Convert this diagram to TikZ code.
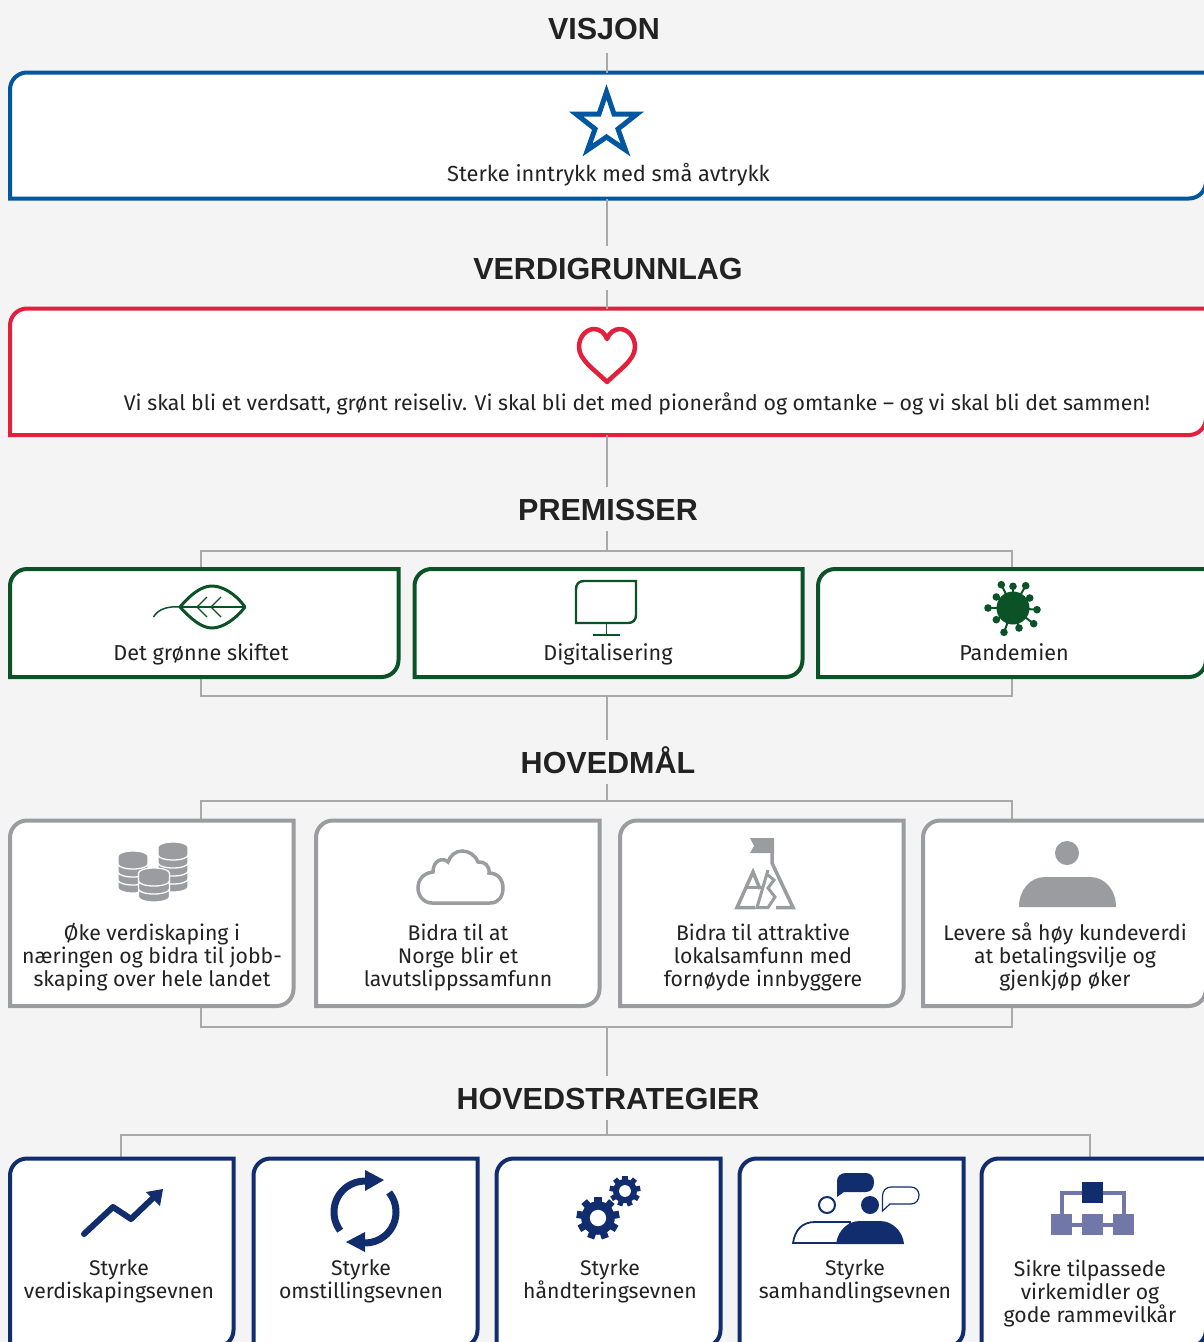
\documentclass[tikz,border=0pt]{standalone}
\usepackage{fontspec}
\setmainfont{Fira Sans}
\newfontfamily\headfont{Liberation Sans}
\usetikzlibrary{fit}
\definecolor{pagegray}{HTML}{F4F4F4}
\definecolor{linkgray}{HTML}{A9A9A9}
\definecolor{inkblack}{HTML}{222222}
\definecolor{visionblue}{HTML}{0057A0}
\definecolor{valuered}{HTML}{E2203C}
\definecolor{premisegreen}{HTML}{0B5226}
\definecolor{goalgray}{HTML}{9B9CA0}
\definecolor{stratnavy}{HTML}{112D6E}
\definecolor{stratlilac}{HTML}{7277A9}
\tikzset{
	headline/.style={font=\headfont\fontsize{30.5}{31}\selectfont\bfseries, text=inkblack, text height=22pt, text depth=0pt, inner ysep=11pt},
	cardtext/.style={font=\fontsize{21.2}{23}\selectfont, text=inkblack, align=center, inner sep=0pt},
	oneline/.style={font=\fontsize{21.6}{23}\selectfont, text height=16pt, text depth=6pt},
	link/.style={draw=linkgray, line width=1.5pt},
	cardline/.style={fill=white, line width=4pt}
}
\def\cardbox[#1](#2)(#3,#4)(#5,#6){\draw[cardline, draw=#1] (#3,#6) [rounded corners=17pt] -- (#3,#4) [sharp corners] -- (#5,#4) [rounded corners=17pt] -- (#5,#6) [sharp corners] -- cycle; \node[fit={(#3,#4) (#5,#6)}, inner sep=0pt, outer sep=0pt] (#2) {};}
\def\coinstack(#1,#2)(#3)(#4){\foreach \i in {#4} {\draw[draw=white, line width=1.3pt, fill=goalgray] ({#1-#3},{#2+5+\i*8}) -- ({#1-#3},{#2+13+\i*8}) arc[start angle=180, end angle=0, x radius=#3, y radius=5] -- ({#1+#3},{#2+5+\i*8}) arc[start angle=0, end angle=-180, x radius=#3, y radius=5] -- cycle;}}
\def\gearicon(#1,#2)(#3){\foreach \a in {0,40,...,320} {\draw[stratnavy, line width=#3*0.34pt] (#1,#2) -- ++(\a-90:#3);} \fill[stratnavy] (#1,#2) circle ({#3*0.78}); \fill[white] (#1,#2) circle ({#3*0.38});}

\begin{document}
\begin{tikzpicture}[x=1pt, y=-1pt]
	%%%%% START %%%%%
	
	\path[use as bounding box, clip] (0, 0) rectangle (1204, 1342);
	\fill[pagegray] (0, 0) rectangle (1204, 1342);
	
	\coordinate (spine) at (607, 0);
	\coordinate (premleft) at (201, 551);
	\coordinate (premright) at (1012, 696);
	\coordinate (goalleft) at (201, 801);
	\coordinate (goalright) at (1012, 1027);
	\coordinate (stratleft) at (121, 1158);
	\coordinate (stratmid) at (607, 1135);
	\coordinate (stratright) at (1090, 1158);
	
	\draw[link] (premleft) rectangle (premright);
	\draw[link] (goalleft) rectangle (goalright);
	\draw[link] (stratleft) |- (stratmid) -| (stratright);
	
	% headings
	\node[headline, inner ysep=14pt] (visjon) at (604, 28) {VISJON};
	\node[headline] (verdi) at (608, 268) {VERDIGRUNNLAG};
	\node[headline] (premisser) at (608, 509) {PREMISSER};
	\node[headline] (hovedmal) at (608, 762) {HOVEDMÅL};
	\node[headline] (hovedstrat) at (608, 1098) {HOVEDSTRATEGIER};
	
	% vision
	\cardbox[visionblue](visjonbox)(10, 72.5)(1206, 198.5);
	\draw[link] (spine |- visjon.south) -- (spine |- visjonbox.north);
	\draw[visionblue, line width=5pt, fill=white, miter limit=10] (606.5, 92) -- (614, 114) -- (637, 114) -- (618, 129) -- (625.5, 150) -- (606.5, 137) -- (587.5, 150) -- (595, 129) -- (576, 114) -- (599, 114) -- cycle;
	\node[cardtext, oneline, font=\fontsize{21.8}{23}\selectfont] (visjontext) at (608.5, 176) {Sterke inntrykk med små avtrykk};
	
	% values
	\draw[link] (spine |- visjonbox.south) -- (spine |- verdi.north);
	\cardbox[valuered](verdibox)(10, 308.5)(1206, 435);
	\draw[link] (spine |- verdi.south) -- (spine |- verdibox.north);
	\draw[valuered, line width=4.5pt, line join=round] (607, 382) .. controls (595, 370) and (579, 360) .. (579, 347) .. controls (579, 336) and (587, 329) .. (594, 329) .. controls (600, 329) and (605, 333) .. (607, 339) .. controls (609, 333) and (614, 329) .. (620, 329) .. controls (627, 329) and (635, 336) .. (635, 347) .. controls (635, 360) and (619, 370) .. (607, 382) -- cycle;
	\node[cardtext, oneline, font=\fontsize{21.3}{23}\selectfont] (verditext) at (637, 405) {Vi skal bli et verdsatt, grønt reiseliv. Vi skal bli det med pionerånd og omtanke – og vi skal bli det sammen!};
	
	% premises
	\draw[link] (spine |- verdibox.south) -- (spine |- premisser.north);
	\draw[link] (spine |- premisser.south) -- (spine |- premleft);
	\cardbox[premisegreen](gronnbox)(10, 569)(398.5, 677);
	\cardbox[premisegreen](digitalbox)(414.5, 569)(802.5, 677);
	\cardbox[premisegreen](pandemibox)(818, 569)(1206, 677);
	\node[cardtext, oneline] (gronntext) at (201, 655) {Det grønne skiftet};
	\node[cardtext, oneline] (digitaltext) at (608, 655) {Digitalisering};
	\node[cardtext, oneline] (pandemitext) at (1014, 655) {Pandemien};
	
	\draw[premisegreen, line width=1.5pt] (153.5, 617) .. controls (158, 609) and (168, 606) .. (180, 607);
	\draw[premisegreen, line width=3pt, line join=round] (180, 607) .. controls (192, 593) and (202, 586) .. (212, 586) .. controls (222, 586) and (235, 593) .. (245, 607) .. controls (235, 620) and (222, 628) .. (212, 628) .. controls (202, 628) and (192, 620) .. (180, 607) -- cycle;
	\draw[premisegreen, line width=2.5pt] (180, 607) -- (245, 607);
	\draw[premisegreen, line width=1.3pt] (207, 597) -- (197, 607) -- (207, 617);
	\draw[premisegreen, line width=1.3pt] (221, 597) -- (211, 607) -- (221, 617);
	
	\draw[premisegreen, line width=2.4pt] (576, 623) -- (576, 589) .. controls (576, 584) and (579, 581) .. (584, 581) -- (636, 581) -- (636, 615) .. controls (636, 620) and (633, 623) .. (628, 623) -- cycle;
	\draw[premisegreen, line width=1.8pt] (606.5, 623) -- (606.5, 635);
	\draw[premisegreen, line width=2pt] (593, 635) -- (620, 635);
	
	\fill[premisegreen] (1013, 608) circle (16.5);
	\foreach \dx/\dy in {-11.7/-23.3, 0/-21.7, 12.7/-22.3, 16.7/-10, 24/1.7, 20.7/15.7, 6/20, -9/24.3, -16.7/11.7, -25/0, -16.7/-11} {
		\draw[premisegreen, line width=2pt] (1013, 608) -- ++(\dx, \dy);
		\fill[premisegreen] (1013, 608) ++(\dx, \dy) circle (3.8);
	}
	
	% goals
	\draw[link] (spine |- premright) -- (spine |- hovedmal.north);
	\draw[link] (spine |- hovedmal.south) -- (spine |- goalleft);
	\cardbox[goalgray](verdiskapbox)(10, 820.5)(293.5, 1006);
	\cardbox[goalgray](lavutslippbox)(316, 820.5)(599.5, 1006);
	\cardbox[goalgray](lokalbox)(620, 820.5)(903.5, 1006);
	\cardbox[goalgray](kundebox)(923, 820.5)(1206, 1006);
	\node[cardtext] (verdiskaptext) at (152, 957) {Øke verdiskaping i\\næringen og bidra til jobb-\\skaping over hele landet};
	\node[cardtext] (lavutslipptext) at (458, 957) {Bidra til at\\Norge blir et\\lavutslippssamfunn};
	\node[cardtext] (lokaltext) at (763, 957) {Bidra til attraktive\\lokalsamfunn med\\fornøyde innbyggere};
	\node[cardtext] (kundetext) at (1065, 957) {Levere så høy kundeverdi\\at betalingsvilje og\\gjenkjøp øker};
	
	\coinstack(173, 842)(15)(4,3,2,1,0)
	\coinstack(133, 851)(15)(3,2,1,0)
	\coinstack(154, 868)(15.5)(2,1,0)
	
	\draw[goalgray, line width=3.5pt] (432, 903) -- (490, 903) .. controls (499, 903) and (503, 896) .. (503, 888) .. controls (503, 880) and (498, 873) .. (489, 873) .. controls (490, 866) and (484, 861) .. (478, 862) .. controls (475, 855) and (469, 851) .. (462, 851) .. controls (455, 851) and (450, 856) .. (448, 862) .. controls (443, 857) and (433, 860) .. (433, 872) .. controls (424, 873) and (418, 879) .. (418, 888) .. controls (418, 896) and (424, 903) .. (432, 903) -- cycle;
	
	\fill[goalgray] (750, 838) -- (774, 838) -- (774, 853) -- (750, 853) -- (754, 846) -- cycle;
	\draw[goalgray, line width=3.5pt] (772, 853) -- (772, 863) -- (793, 907.5) -- (776, 907.5);
	\draw[goalgray, line width=3.5pt] (755, 907.5) -- (737, 907.5) -- (753, 872) -- (760, 889);
	\draw[goalgray, line width=3pt] (746, 887) -- (764, 887);
	\draw[goalgray, line width=3pt] (768, 870) -- (757, 907.5) -- (768, 907.5) -- (775, 897) -- (768, 888) -- (774, 880) -- (768, 875);
	
	\fill[goalgray] (1067, 853) circle (12);
	\fill[goalgray] (1019, 907) .. controls (1019, 890) and (1030, 877) .. (1045, 877) -- (1090, 877) .. controls (1105, 877) and (1116, 890) .. (1116, 907) -- cycle;
	
	% strategies
	\draw[link] (spine |- goalright) -- (spine |- hovedstrat.north);
	\draw[link] (spine |- hovedstrat.south) -- (stratmid);
	\cardbox[stratnavy](verdiskapevne)(10, 1158.5)(233.5, 1347);
	\cardbox[stratnavy](omstillevne)(253.5, 1158.5)(477.5, 1347);
	\cardbox[stratnavy](handterevne)(496.5, 1158.5)(720.5, 1347);
	\cardbox[stratnavy](samhandlevne)(739.5, 1158.5)(963.5, 1347);
	\cardbox[stratnavy](virkemiddel)(981.5, 1158.5)(1206, 1347);
	\node[cardtext] (verdiskapetext) at (119, 1281.5) {Styrke\\verdiskapingsevnen};
	\node[cardtext] (omstilletext) at (361, 1281.5) {Styrke\\omstillingsevnen};
	\node[cardtext] (handteretext) at (610, 1281.5) {Styrke\\håndteringsevnen};
	\node[cardtext] (samhandletext) at (855, 1281.5) {Styrke\\samhandlingsevnen};
	\node[cardtext] (virkemiddeltext) at (1090, 1293) {Sikre tilpassede\\virkemidler og\\gode rammevilkår};
	
	\draw[stratnavy, line width=6pt, line cap=round, line join=round] (84, 1234) -- (113, 1207) -- (131, 1219) -- (154, 1197);
	\fill[stratnavy] (163, 1189) -- (146, 1192) -- (160, 1206) -- cycle;
	
	\draw[stratnavy, line width=7pt] (365, 1212) ++(143:31) arc[start angle=143, end angle=270, radius=31];
	\fill[stratnavy] (384, 1180) -- (365, 1170) -- (365, 1191) -- cycle;
	\draw[stratnavy, line width=7pt] (365, 1212) ++(-39:31) arc[start angle=-39, end angle=90, radius=31];
	\fill[stratnavy] (346, 1242) -- (365, 1232) -- (365, 1252) -- cycle;
	
	\gearicon(598, 1218)(21.5)
	\gearicon(625, 1191)(15.5)
	
	\draw[stratnavy, line width=1.8pt, fill=white] (793, 1243) .. controls (795, 1230) and (802, 1222) .. (815, 1222) -- (850, 1222) -- (850, 1243) -- cycle;
	\draw[stratnavy, line width=2pt, fill=white] (827, 1205) circle (8);
	\fill[stratnavy] (870, 1205) circle (9);
	\fill[stratnavy] (836, 1244) .. controls (838, 1230) and (848, 1221) .. (860, 1221) -- (880, 1221) .. controls (893, 1221) and (903, 1232) .. (904, 1244) -- cycle;
	\fill[stratnavy] (837, 1197) -- (837, 1181) .. controls (837, 1176) and (841, 1173) .. (846, 1173) -- (866, 1173) .. controls (871, 1173) and (874, 1177) .. (874, 1182) .. controls (874, 1188) and (871, 1192) .. (866, 1192) -- (844, 1192) -- cycle;
	\draw[stratnavy, line width=1.2pt] (882.5, 1211) -- (882.5, 1196) .. controls (882.5, 1191) and (886, 1187) .. (891, 1187) -- (911, 1187) .. controls (916, 1187) and (919, 1191) .. (919, 1195) .. controls (919, 1200) and (916, 1204) .. (911, 1204) -- (890, 1204) -- cycle;
	
	\draw[stratlilac, line width=4pt] (1062, 1214) -- (1062, 1193) -- (1124, 1193) -- (1124, 1214);
	\draw[stratlilac, line width=4pt] (1062, 1224.5) -- (1124, 1224.5);
	\fill[stratnavy] (1082, 1182) rectangle (1103, 1203);
	\fill[stratlilac] (1051, 1214) rectangle (1072, 1235);
	\fill[stratlilac] (1082, 1214) rectangle (1103, 1235);
	\fill[stratlilac] (1113, 1214) rectangle (1134, 1235);
	
	%%%%% END %%%%%
\end{tikzpicture}
\end{document}
